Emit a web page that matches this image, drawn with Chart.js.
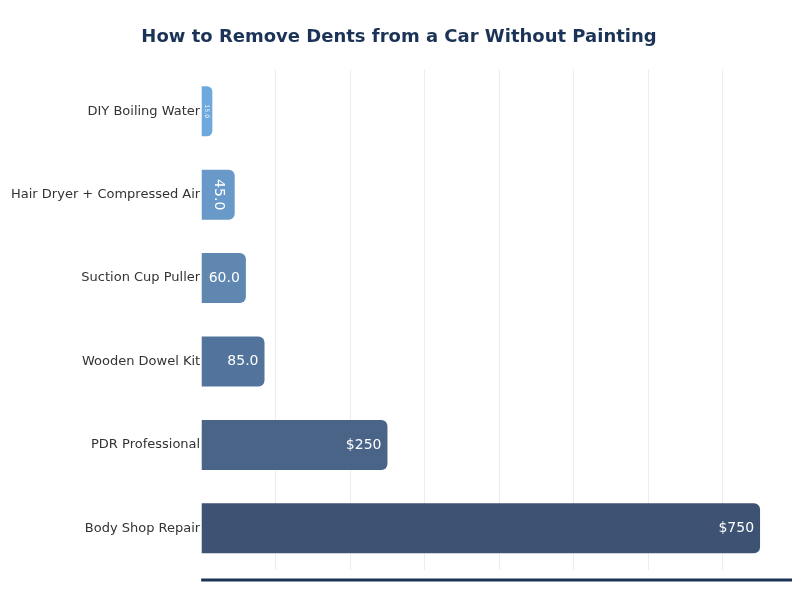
<!DOCTYPE html>
<html>
<head>
<meta charset="utf-8">
<title>Dent removal cost</title>
<script src="https://cdn.jsdelivr.net/npm/chart.js@4.4.1/dist/chart.umd.min.js"></script>
<style>
  html, body { margin: 0; padding: 0; background: #ffffff; }
  #wrap { width: 800px; height: 600px; }
</style>
</head>
<body>
<div id="wrap"><canvas id="dentChart"></canvas></div>
<script>
// --- data ---
const methods = [
    'DIY Boiling Water',
    'Hair Dryer + Compressed Air',
    'Suction Cup Puller',
    'Wooden Dowel Kit',
    'PDR Professional',
    'Body Shop Repair'
];
const costs = [15, 45, 60, 85, 250, 750];
const barColors = ['#6fa8dc', '#6899c9', '#5f87b0', '#52739c', '#4a6488', '#3e5374'];

const NAVY = '#1c3358';

// text shown at the end of each bar
function formatCost(v) {
    return v >= 100 ? '$' + v : v.toFixed(1);
}

// draws the value labels inside the bars, turning / shrinking them when the bar is too short
const barLabels = {
    id: 'barLabels',
    afterDatasetsDraw(chart) {
        const ctx = chart.ctx;
        const meta = chart.getDatasetMeta(0);
        ctx.save();
        ctx.fillStyle = '#ffffff';
        meta.data.forEach((bar, i) => {
            const text = formatCost(costs[i]);
            const len = bar.x - bar.base;
            let size = 14;
            ctx.font = size + 'px "DejaVu Sans"';
            const w = ctx.measureText(text).width;
            if (w + 12 <= len) {
                ctx.textAlign = 'right';
                ctx.textBaseline = 'middle';
                ctx.fillText(text, bar.x - 6, bar.y);
            } else {
                // rotated label, centred in the bar
                if (size + 2 > len) size = Math.max(5, Math.round(len * 0.55));
                ctx.save();
                ctx.font = size + 'px "DejaVu Sans"';
                ctx.translate(bar.base + len / 2, bar.y);
                ctx.rotate(Math.PI / 2);
                ctx.textAlign = 'center';
                ctx.textBaseline = 'middle';
                ctx.fillText(text, 0, 0);
                ctx.restore();
            }
        });
        ctx.restore();
    }
};

// heavy base line a little below the plot
const baseLine = {
    id: 'baseLine',
    afterDraw(chart) {
        const { ctx, chartArea } = chart;
        ctx.save();
        ctx.strokeStyle = NAVY;
        ctx.lineWidth = 3;
        ctx.beginPath();
        ctx.moveTo(chartArea.left, chartArea.bottom + 10);
        ctx.lineTo(chartArea.right + 4, chartArea.bottom + 10);
        ctx.stroke();
        ctx.restore();
    }
};

new Chart(document.getElementById('dentChart'), {
    type: 'bar',
    data: {
        labels: methods,
        datasets: [{
            data: costs,
            backgroundColor: barColors,
            borderWidth: 0,
            borderRadius: 6,
            borderSkipped: 'start',
            barPercentage: 0.75,
            categoryPercentage: 0.8
        }]
    },
    options: {
        indexAxis: 'y',
        responsive: true,
        maintainAspectRatio: false,
        animation: false,
        layout: { padding: { left: 10, right: 12, top: 0, bottom: 30 } },
        plugins: {
            legend: { display: false },
            tooltip: { enabled: false },
            title: {
                display: true,
                text: 'How to Remove Dents from a Car Without Painting',
                color: NAVY,
                font: { family: 'DejaVu Sans', size: 18, weight: 'bold' },
                padding: { top: 27, bottom: 21 }
            }
        },
        scales: {
            x: {
                min: 0,
                max: 787.5,
                ticks: { display: false, stepSize: 100 },
                border: { display: false },
                grid: {
                    drawTicks: false,
                    color: (c) => (c.tick && c.tick.value > 0 && c.tick.value % 100 === 0) ? '#ececec' : 'rgba(0,0,0,0)'
                }
            },
            y: {
                ticks: {
                    color: '#333333',
                    font: { family: 'DejaVu Sans', size: 13 },
                    padding: 1
                },
                border: { display: false },
                grid: { display: false, drawTicks: false }
            }
        }
    },
    plugins: [barLabels, baseLine]
});
</script>
</body>
</html>
